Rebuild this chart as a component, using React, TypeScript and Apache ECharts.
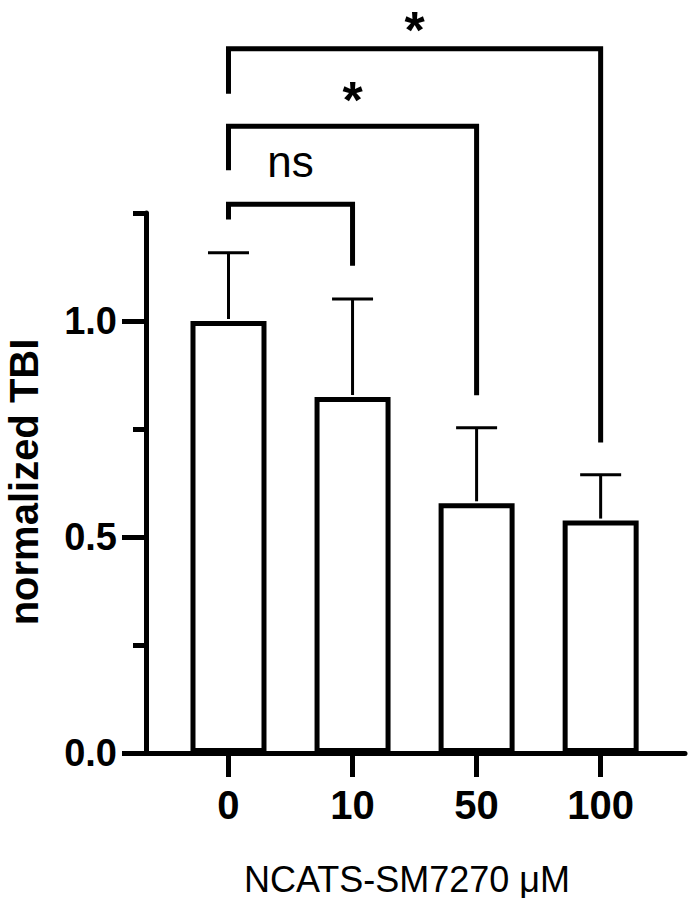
import React, { useEffect, useRef } from "react";
import * as echarts from "echarts";

// ---- data ----
const categories = ["0", "10", "50", "100"];
const means = [1.0, 0.824, 0.578, 0.538];
const sds = [0.158, 0.227, 0.175, 0.106];
const yTickValues = [0, 0.5, 1.0];
const xTickValues = [0, 1, 2, 3];

// significance comparisons (group indices, label, bracket heights in data units)
const compFrom = [0, 0, 0];
const compTo = [1, 2, 3];
const compLabels = ["ns", "*", "*"];
const compLevel = [1.27, 1.451, 1.63];
const compLeftEnd = [1.235, 1.349, 1.526];
const compRightEnd = [1.128, 0.828, 0.719];

const FONT = '"Liberation Sans", Arial, Helvetica, sans-serif';

export default function App() {
  const ref = useRef<HTMLDivElement>(null);

  useEffect(() => {
    document.body.style.margin = "0";
    const chart = echarts.init(ref.current!, null, { renderer: "svg" });

    const barData = means.map((m, i) => [xTickValues[i], m]);
    const errData = means.map((m, i) => [xTickValues[i], m, m + sds[i]]);
    const compData = compFrom.map((f, i) => [
      xTickValues[f],
      xTickValues[compTo[i]],
      compLevel[i],
      compLeftEnd[i],
      compRightEnd[i],
    ]);

    const option: any = {
      animation: false,
      backgroundColor: "#fff",
      grid: { left: 146, right: 3, top: 213, height: 540, containLabel: false },
      xAxis: {
        type: "value",
        min: -0.665,
        max: 3.68,
        axisLine: { show: true, onZero: false, lineStyle: { color: "#000", width: 5 } },
        axisTick: {
          show: true,
          customValues: xTickValues,
          length: 24,
          lineStyle: { color: "#000", width: 5 },
        },
        axisLabel: {
          customValues: xTickValues,
          formatter: (v: number) => categories[Math.round(v)] ?? "",
          color: "#000",
          fontFamily: FONT,
          fontWeight: "bold",
          fontSize: 40,
          margin: 32,
        },
        splitLine: { show: false },
      },
      yAxis: [
        {
          type: "value",
          min: 0,
          max: 1.25,
          interval: 0.25,
          axisLine: { show: true, onZero: false, lineStyle: { color: "#000", width: 5 } },
          axisTick: { show: true, length: 13, lineStyle: { color: "#000", width: 5 } },
          axisLabel: {
            customValues: yTickValues,
            formatter: (v: number) => v.toFixed(1),
            color: "#000",
            fontFamily: FONT,
            fontWeight: "bold",
            fontSize: 38,
            margin: 29,
          },
          splitLine: { show: false },
        },
        {
          type: "value",
          min: 0,
          max: 1.25,
          position: "left",
          offset: 0,
          axisLine: { show: false, onZero: false },
          axisTick: {
            show: true,
            customValues: yTickValues,
            length: 24,
            lineStyle: { color: "#000", width: 5 },
          },
          axisLabel: { show: false },
          splitLine: { show: false },
        },
      ],
      graphic: [
        {
          type: "text",
          x: 24,
          y: 482,
          rotation: Math.PI / 2,
          style: {
            text: "normalized TBI",
            font: `bold 40px ${FONT}`,
            lineHeight: 34,
            fill: "#000",
            align: "center",
            verticalAlign: "middle",
          },
        },
        {
          type: "text",
          x: 407,
          y: 879,
          style: {
            text: "NCATS-SM7270 \u03bcM",
            font: `36px ${FONT}`,
            lineHeight: 32,
            fill: "#000",
            align: "center",
            verticalAlign: "middle",
          },
        },
      ],
      series: [
        {
          type: "bar",
          data: barData,
          barWidth: 76,
          itemStyle: { color: "#fff", borderColor: "#000", borderWidth: 5 },
          z: 2,
        },
        {
          type: "custom",
          data: errData,
          z: 3,
          clip: false,
          renderItem: (params: any, api: any) => {
            const x = api.value(0);
            const p0 = api.coord([x, api.value(1)]);
            const p1 = api.coord([x, api.value(2)]);
            const half = 20.5;
            return {
              type: "group",
              children: [
                {
                  type: "line",
                  shape: { x1: p0[0], y1: p0[1] - 2, x2: p1[0], y2: p1[1] },
                  style: { stroke: "#000", lineWidth: 3 },
                },
                {
                  type: "line",
                  shape: { x1: p1[0] - half, y1: p1[1], x2: p1[0] + half, y2: p1[1] },
                  style: { stroke: "#000", lineWidth: 3 },
                },
              ],
            };
          },
        },
        {
          type: "custom",
          data: compData,
          z: 4,
          clip: false,
          renderItem: (params: any, api: any) => {
            const xa = api.value(0);
            const xb = api.value(1);
            const pl = api.coord([xa, api.value(2)]);
            const pr = api.coord([xb, api.value(2)]);
            const le = api.coord([xa, api.value(3)]);
            const re = api.coord([xb, api.value(4)]);
            const label = compLabels[params.dataIndex];
            const isStar = label === "*";
            const ty = isStar ? Math.max(pl[1] - 26.5, 30) : pl[1] - 43;
            return {
              type: "group",
              children: [
                {
                  type: "polyline",
                  shape: {
                    points: [
                      [le[0], le[1]],
                      [pl[0], pl[1]],
                      [pr[0], pr[1]],
                      [re[0], re[1]],
                    ],
                  },
                  style: {
                    stroke: "#000",
                    lineWidth: 5,
                    fill: null,
                    lineJoin: "miter",
                    lineCap: "butt",
                  },
                },
                {
                  type: "text",
                  style: {
                    text: label,
                    x: (pl[0] + pr[0]) / 2,
                    y: ty,
                    font: isStar ? `bold 52px ${FONT}` : `44px ${FONT}`,
                    lineHeight: isStar ? 36 : 44,
                    fill: "#000",
                    align: "center",
                    verticalAlign: "middle",
                  },
                },
              ],
            };
          },
        },
      ],
    };

    chart.setOption(option);
    return () => chart.dispose();
  }, []);

  return (
    <div
      ref={ref}
      style={{ position: "fixed", left: 0, top: 0, width: 688, height: 898 }}
    />
  );
}
